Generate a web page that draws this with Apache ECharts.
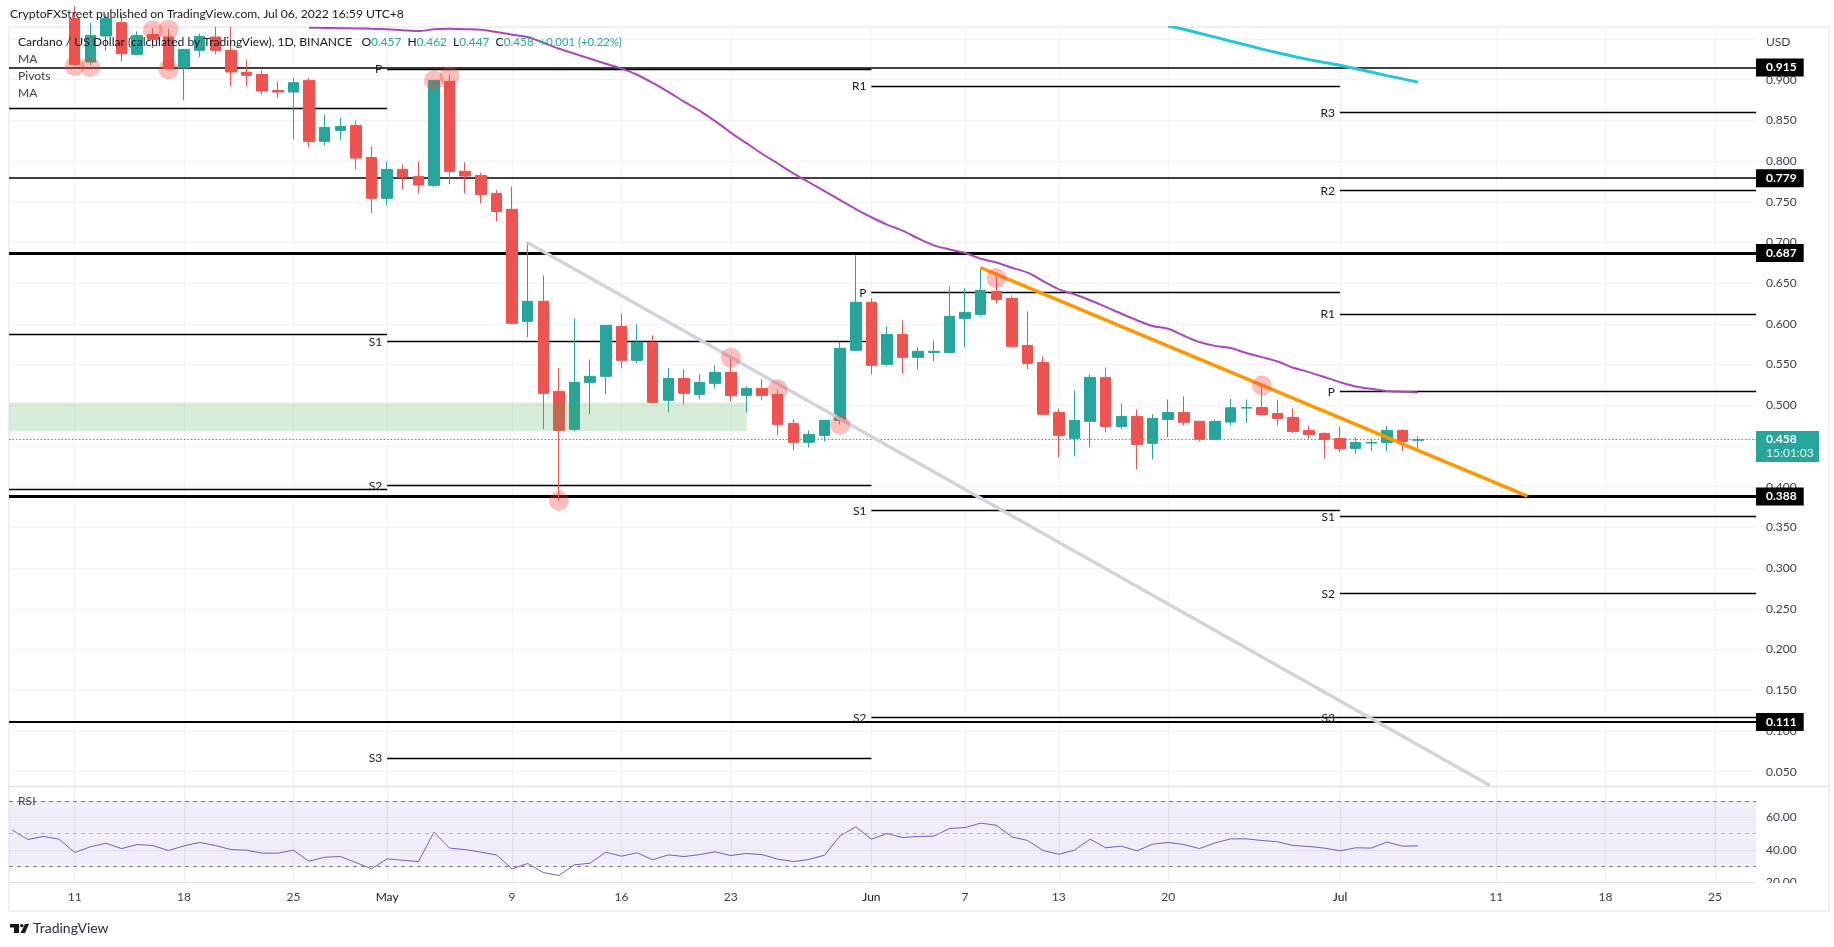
<!DOCTYPE html>
<html>
<head>
<meta charset="utf-8">
<style>
  html, body { margin: 0; background: #fff; }
  #chart { width: 1834px; height: 947px; }
</style>
<script src="https://cdn.jsdelivr.net/npm/echarts@6/dist/echarts.min.js"></script>
</head>
<body>
<div id="chart"></div>
<script>
// x values are days counted from Apr 11 2022, candles start at day 0
// candles: open, close, low, high
var candles = [
  [0.975,0.9188,0.917,0.99],[0.9217,0.9544,0.9176,0.97],[0.9536,0.975,0.9352,0.98],[0.97,0.9319,0.9225,0.98],
  [0.9311,0.9544,0.930,0.9593],[0.9556,0.9495,0.9388,0.9626],[0.9524,0.9135,0.9126,0.9626],[0.9147,0.9372,0.8746,0.9372],
  [0.9360,0.9532,0.9278,0.9565],[0.9524,0.9360,0.9311,0.965],[0.9360,0.9094,0.8918,0.965],[0.9090,0.9053,0.8918,0.9245],
  [0.9065,0.8860,0.8819,0.9114],[0.8868,0.8848,0.8774,0.8979],[0.8848,0.8963,0.8267,0.9024],[0.8991,0.8242,0.8172,0.9024],
  [0.8242,0.8414,0.8193,0.8570],[0.8377,0.8426,0.8254,0.8529],[0.8438,0.8037,0.7898,0.8500],[0.8045,0.7542,0.7362,0.8181],
  [0.7542,0.7898,0.7456,0.7996],[0.7898,0.7804,0.7652,0.7959],[0.7812,0.7706,0.7603,0.7996],[0.7702,0.8991,0.7681,0.90],
  [0.8979,0.7874,0.7714,0.9065],[0.7874,0.7816,0.7603,0.7984],[0.7824,0.7591,0.7480,0.7857],[0.7603,0.7382,0.7259,0.7648],
  [0.7407,0.6007,0.5995,0.7689],[0.6031,0.6277,0.5839,0.7006],[0.6277,0.5147,0.4705,0.6596],[0.5171,0.4692,0.3832,0.5454],
  [0.4705,0.5282,0.4680,0.6068],[0.5282,0.5356,0.4889,0.5564],[0.5356,0.5982,0.5134,0.5982],[0.5970,0.5552,0.5454,0.6129],
  [0.5552,0.5773,0.5515,0.5994],[0.5773,0.5036,0.5024,0.5859],[0.5061,0.5331,0.4913,0.5454],[0.5331,0.5147,0.5012,0.5441],
  [0.5134,0.5282,0.5073,0.5380],[0.5270,0.5405,0.5208,0.5491],[0.5405,0.5122,0.5048,0.5577],[0.5122,0.5208,0.4913,0.5233],
  [0.5208,0.5122,0.5061,0.5319],[0.5134,0.4766,0.4631,0.5196],[0.4778,0.4545,0.4446,0.4827],[0.4545,0.4643,0.4483,0.4692],
  [0.4631,0.4815,0.4557,0.4815],[0.4815,0.5700,0.4766,0.5773],[0.5675,0.6265,0.5675,0.6842],[0.6265,0.5491,0.5380,0.6314],
  [0.5503,0.5871,0.5478,0.5970],[0.5871,0.5589,0.5392,0.6043],[0.5589,0.5663,0.5441,0.5712],[0.5650,0.5663,0.5540,0.5798],
  [0.5650,0.6093,0.5650,0.6461],[0.6068,0.6142,0.5712,0.6437],[0.6117,0.6412,0.6093,0.6690],[0.6400,0.6301,0.6252,0.6576],
  [0.6314,0.5724,0.5712,0.6351],[0.5736,0.5515,0.5441,0.6154],[0.5527,0.4889,0.4889,0.5601],[0.4913,0.4631,0.4361,0.4962],
  [0.4594,0.4815,0.4373,0.5184],[0.4803,0.5343,0.4483,0.5380],[0.5343,0.4741,0.4668,0.5466],[0.4741,0.4864,0.4705,0.5024],
  [0.4864,0.4520,0.4213,0.4950],[0.4533,0.4840,0.4336,0.4889],[0.4827,0.4913,0.4606,0.5073],[0.4913,0.4791,0.4754,0.5110],
  [0.4803,0.4582,0.4557,0.4803],[0.4582,0.4803,0.4582,0.4827],[0.4794,0.4970,0.4753,0.5081],[0.4966,0.4974,0.4782,0.5072],
  [0.4974,0.4888,0.4876,0.5244],[0.4900,0.4839,0.4753,0.5072],[0.4851,0.4679,0.4659,0.4962],[0.4692,0.4642,0.4593,0.4753],
  [0.4655,0.4581,0.4348,0.4667],[0.4593,0.4470,0.4421,0.4741],[0.4470,0.4544,0.4397,0.4606],[0.4536,0.4544,0.4438,0.4593],
  [0.4544,0.4692,0.4438,0.4753],[0.4692,0.4556,0.4438,0.4704],[0.457,0.458,0.447,0.462]
];

// purple MA, starts day 15
var maStart = 15;
var maSlow = [
  0.9638,0.9636,0.9633,0.9630,0.9624,0.9618,0.9608,0.9597,0.9618,0.9626,0.9620,0.9614,0.9585,0.9552,0.9524,0.9454,0.9380,0.9319,0.9257,0.9196,
  0.9135,0.906,0.896,0.885,0.873,0.862,0.849,0.835,0.822,0.809,0.797,0.785,0.774,0.763,0.752,0.741,0.731,0.722,0.7145,0.7050,
  0.6965,0.6915,0.6871,0.680,0.6755,0.669,0.6629,0.6525,0.6425,0.6365,0.629,0.621,0.6125,0.6045,0.5975,0.594,0.5855,0.5777,0.5730,0.5703,
  0.5642,0.5592,0.5539,0.5461,0.5408,0.5347,0.5285,0.5232,0.5203,0.5175,0.5167,0.5158
];
// cyan MA, starts day 70
var maFastStart = 70;
var maLong = [0.9658,0.9620,0.9570,0.9522,0.9472,0.9425,0.9375,0.9330,0.9288,0.9246,0.921,0.9176,0.9135,0.9094,0.905,0.901,0.897];

// RSI, starts day -4
var rsiStart = -4;
var rsiValues = [
  52.2,46.4,48.3,46.6,38.4,41.9,44.1,40.8,43.3,42.7,39.6,42.5,44.6,42.7,40.2,39.8,38.0,38.0,39.8,33.0,35.5,35.9,32.2,28.3,
  34.5,33.6,32.8,50.9,41.1,40.2,38.6,36.9,28.3,31.6,26.0,24.2,30.8,31.8,38.6,36.1,38.2,33.9,36.9,35.9,37.1,38.8,36.5,37.8,37.1,
  34.3,32.8,34.1,36.7,48.7,54.2,46.6,50.1,47.6,48.3,48.5,53.2,53.8,56.5,55.2,48.0,45.8,39.6,37.3,39.8,46.6,41.3,42.3,39.4,43.5,
  44.6,43.3,40.8,44.3,46.8,46.8,45.8,45.0,42.7,42.1,41.1,39.4,41.3,41.1,44.8,42.3,42.5
];

// pivots: label, from day, to day, price
var xMin = -4.206, xMax = 107.63;
var pivots = [
  ['', xMin, 20, 0.8643], ['', xMin, 20, 0.5867], ['', xMin, 20, 0.3968],
  ['P', 20, 51, 0.9126], ['S1', 20, 51, 0.5781], ['S2', 20, 51, 0.4013], ['S3', 20, 51, 0.0668],
  ['R1', 51, 81, 0.8925], ['P', 51, 81, 0.6383], ['S1', 51, 81, 0.3705], ['S2', 51, 81, 0.1163],
  ['R3', 81, xMax, 0.8595], ['R2', 81, xMax, 0.7636], ['R1', 81, xMax, 0.6123], ['P', 81, xMax, 0.5167],
  ['S1', 81, xMax, 0.3632], ['S2', 81, xMax, 0.2686], ['S3', 81, xMax, 0.1163]
];
var thinLevels = [0.915, 0.779];
var thickLevels = [0.687, 0.388];
var midLevels = [0.111];
var taggedLevels = [0.915, 0.779, 0.687, 0.388, 0.111];
var lastClose = 0.458;
var countdown = '15:01:03';

// drawn trend lines: [day, price], [day, price]
var grayTrend = [[29, 0.6998], [90.6, 0.0329]];
var orangeTrend = [[57.98, 0.6690], [93, 0.3885]];
var greenZone = [[xMin, 0.5036], [43.03, 0.4680]];

var touches = [
  [0,0.9167],[1,0.9155],[5,0.9605],[6,0.9614],[6,0.9126],[23,0.8991],[24,0.9040],[31,0.3824],
  [42,0.5585],[45,0.5196],[49,0.4762],[59,0.6563],[76,0.5244]
];

var tickDays = [0,7,14,20,28,35,42,51,57,63,70,81,91,98,105];
var tickLabels = ['11','18','25','May','9','16','23','Jun','7','13','20','Jul','11','18','25'];
var priceLabels = [0.05,0.1,0.15,0.2,0.25,0.3,0.35,0.4,0.45,0.5,0.55,0.6,0.65,0.7,0.75,0.8,0.85,0.9];
var priceGrid = priceLabels.concat([0.95]);
var rsiTicks = [20,40,60];
var priceMin = 0.0319, priceMax = 0.9642, rsiMin = 20, rsiMax = 78.8;

var up = '#26a69a', down = '#ef5350', gridColor = '#f0f3fa';
var font = 'Lato, "Open Sans", sans-serif';
var txt = '#3c3f4a';

function hline(v, width) {
  return [{ coord: [xMin, v], lineStyle: { width: width, color: '#000' } }, { coord: [xMax, v] }];
}

// the axis split lines do not follow custom ticks, so the grid is a markLine
function gridLines(yTicks, yMin, yMax) {
  return yTicks.map(function (v) {
    return [{ coord: [xMin, v] }, { coord: [xMax, v] }];
  }).concat(tickDays.map(function (d) {
    return [{ coord: [d, yMin] }, { coord: [d, yMax] }];
  }));
}

var myChart = echarts.init(document.getElementById('chart'));

myChart.setOption({
  animation: false,
  backgroundColor: '#fff',
  textStyle: { fontFamily: font },
  grid: [
    { left: 9, top: 27.4, width: 1747, height: 759 },
    { left: 9, top: 787, width: 1747, height: 95.3 }
  ],
  xAxis: [
    {
      type: 'value', gridIndex: 0, min: xMin, max: xMax,
      axisLine: { show: false }, axisTick: { show: false }, axisLabel: { show: false }, splitLine: { show: false }
    },
    {
      type: 'value', gridIndex: 1, min: xMin, max: xMax,
      axisLine: { show: false }, axisTick: { show: false }, splitLine: { show: false },
      axisLabel: {
        customValues: tickDays, margin: 9, fontSize: 12, color: txt, fontFamily: font,
        formatter: function (v) {
          var s = tickLabels[tickDays.indexOf(v)];
          return /[a-z]/.test(s) ? '{m|' + s + '}' : s;
        },
        rich: { m: { color: '#131722', fontSize: 12, fontFamily: font } }
      }
    }
  ],
  yAxis: [
    {
      type: 'value', gridIndex: 0, position: 'right', min: priceMin, max: priceMax,
      axisLine: { show: false }, axisTick: { show: false }, splitLine: { show: false },
      axisLabel: {
        customValues: priceLabels, margin: 10, align: 'left', fontSize: 12, color: txt, fontFamily: font,
        formatter: function (v) { return v.toFixed(3); }
      }
    },
    {
      type: 'value', gridIndex: 1, position: 'right', min: rsiMin, max: rsiMax,
      axisLine: { show: false }, axisTick: { show: false }, splitLine: { show: false },
      axisLabel: {
        customValues: rsiTicks, margin: 10, align: 'left', fontSize: 12, color: txt, fontFamily: font,
        formatter: function (v) { return v.toFixed(2); }
      }
    }
  ],
  series: [
    {
      name: 'price grid', type: 'line', xAxisIndex: 0, yAxisIndex: 0, data: [], z: 0,
      markLine: {
        silent: true, symbol: ['none', 'none'], z: 0, label: { show: false },
        lineStyle: { type: 'solid', color: gridColor, width: 1 },
        data: gridLines(priceGrid, priceMin, priceMax)
      }
    },
    {
      name: 'rsi grid', type: 'line', xAxisIndex: 1, yAxisIndex: 1, data: [], z: 2,
      markLine: {
        silent: true, symbol: ['none', 'none'], z: 2, label: { show: false },
        lineStyle: { type: 'solid', color: 'rgba(120,123,134,0.12)', width: 1 },
        data: gridLines(rsiTicks, rsiMin, rsiMax)
      }
    },
    {
      name: 'levels', type: 'line', xAxisIndex: 0, yAxisIndex: 0, data: [], z: 1,
      markLine: {
        silent: true, symbol: ['none', 'none'], z: 1,
        lineStyle: { type: 'solid', color: '#000', width: 1.3 },
        label: { show: false },
        data: thinLevels.map(function (v) { return hline(v, 1.5); })
          .concat(midLevels.map(function (v) { return hline(v, 2.2); }))
          .concat(thickLevels.map(function (v) { return hline(v, 3.2); }))
          .concat(pivots.map(function (p) {
            return [{
              coord: [p[1], p[3]], name: p[0],
              label: { show: !!p[0], position: 'start', distance: 5, formatter: p[0], fontSize: 12, color: '#131722', fontFamily: font }
            }, { coord: [p[2], p[3]] }];
          }))
      }
    },
    {
      name: 'ADA', type: 'candlestick', xAxisIndex: 0, yAxisIndex: 0, z: 2, barWidth: 11,
      encode: { x: 0, y: [1, 2, 3, 4] },
      itemStyle: { color: up, color0: down, borderColor: up, borderColor0: down, borderWidth: 1 },
      data: candles.map(function (c, i) { return [i, c[0], c[1], c[2], c[3]]; })
    },
    {
      name: 'MA', type: 'line', xAxisIndex: 0, yAxisIndex: 0, z: 3, showSymbol: false, symbol: 'none', smooth: 0.3,
      lineStyle: { color: '#ab47bc', width: 2 },
      data: maSlow.map(function (v, i) { return [i + maStart, v]; })
    },
    {
      name: 'MA long', type: 'line', xAxisIndex: 0, yAxisIndex: 0, z: 3, symbol: 'none',
      lineStyle: { color: '#26c6da', width: 3 },
      data: maLong.map(function (v, i) { return [i + maFastStart, v]; })
    },
    {
      name: 'zone', type: 'line', xAxisIndex: 0, yAxisIndex: 0, data: [], z: 3,
      markArea: {
        silent: true, z: 3,
        itemStyle: { color: 'rgba(76,175,80,0.22)' },
        data: [[{ coord: greenZone[0] }, { coord: greenZone[1] }]]
      }
    },
    {
      name: 'gray trend', type: 'line', xAxisIndex: 0, yAxisIndex: 0, z: 3, symbol: 'none',
      lineStyle: { color: '#d1d4dc', width: 3.5 }, data: grayTrend
    },
    {
      name: 'orange trend', type: 'line', xAxisIndex: 0, yAxisIndex: 0, z: 3, symbol: 'none',
      lineStyle: { color: '#ff9800', width: 3.5 }, data: orangeTrend
    },
    {
      name: 'touches', type: 'scatter', xAxisIndex: 0, yAxisIndex: 0, z: 4, symbolSize: 20,
      itemStyle: { color: 'rgba(244,67,54,0.42)' }, data: touches
    },
    {
      name: 'last', type: 'line', xAxisIndex: 0, yAxisIndex: 0, data: [], z: 5,
      markLine: {
        silent: true, symbol: ['none', 'none'], z: 1,
        lineStyle: { type: [1.5, 2], color: up, width: 1 }, label: { show: false },
        data: [[{ coord: [xMin, lastClose] }, { coord: [xMax, lastClose] }]]
      },
      markPoint: {
        silent: true, symbol: 'circle', symbolSize: 0, z: 6,
        data: [{ coord: [xMax, lastClose] }],
        label: {
          show: true, position: 'right', distance: 0, offset: [0, 7],
          backgroundColor: up, padding: [1, 10, 2, 10], width: 43, align: 'left',
          formatter: '{a|' + lastClose.toFixed(3) + '}\n{b|' + countdown + '}',
          rich: {
            a: { color: '#fff', fontWeight: 'bold', fontSize: 12, lineHeight: 14, fontFamily: font },
            b: { color: '#e6f4f2', fontSize: 12, lineHeight: 14, fontFamily: font }
          }
        }
      }
    },
    {
      name: 'tags', type: 'line', xAxisIndex: 0, yAxisIndex: 0, data: [], z: 5,
      markPoint: {
        silent: true, symbol: 'circle', symbolSize: 0, z: 6,
        data: taggedLevels.map(function (v) { return { coord: [xMax, v], value: v }; }),
        label: {
          show: true, position: 'right', distance: 0, backgroundColor: '#000', color: '#fff',
          fontWeight: 'bold', fontSize: 12, padding: [3, 7, 3, 10], fontFamily: font,
          formatter: function (p) { return p.value.toFixed(3); }
        }
      }
    },
    {
      name: 'RSI', type: 'line', xAxisIndex: 1, yAxisIndex: 1, z: 3, symbol: 'none',
      lineStyle: { color: '#7e57c2', width: 1 },
      data: rsiValues.map(function (v, i) { return [i + rsiStart, v]; }),
      markArea: {
        silent: true, itemStyle: { color: 'rgba(126,87,194,0.1)' },
        data: [[{ coord: [xMin, 70] }, { coord: [xMax, 30] }]]
      },
      markLine: {
        silent: true, symbol: ['none', 'none'], label: { show: false },
        lineStyle: { type: [4, 4], color: '#787b86', width: 1 },
        data: [
          [{ coord: [xMin, 70] }, { coord: [xMax, 70] }],
          [{ coord: [xMin, 50], lineStyle: { color: '#b5b3c0' } }, { coord: [xMax, 50] }],
          [{ coord: [xMin, 30] }, { coord: [xMax, 30] }]
        ]
      }
    }
  ],
  graphic: [
    { type: 'rect', silent: true, z: -1, shape: { x: 9, y: 27, width: 1820, height: 884 }, style: { fill: null, stroke: '#eef0f6', lineWidth: 2 } },
    { type: 'line', silent: true, z: 1, shape: { x1: 9, y1: 786.5, x2: 1829, y2: 786.5 }, style: { stroke: '#e0e3eb', lineWidth: 1.5 } },
    { type: 'line', silent: true, z: 1, shape: { x1: 9, y1: 882.5, x2: 1756, y2: 882.5 }, style: { stroke: gridColor, lineWidth: 1 } },
    // 20.00 is cut off by the time scale
    { type: 'rect', silent: true, z: 10, shape: { x: 1757, y: 883, width: 60, height: 8 }, style: { fill: '#fff' } },
    { type: 'text', z: 10, x: 10, y: 8, style: { text: 'CryptoFXStreet published on TradingView.com, Jul 06, 2022 16:59 UTC+8', font: '12.1px ' + font, fill: '#131722' } },
    {
      type: 'text', z: 10, x: 18, y: 36, style: {
        text: '{t|Cardano / US Dollar (calculated by TradingView), 1D, BINANCE   O}{v|0.457}{t|  H}{v|0.462}{t|  L}{v|0.447}{t|  C}{v|0.458}{c|  +0.001 (+0.22%)}',
        rich: {
          t: { fontFamily: font, fontSize: 12.1, fill: '#131722' },
          v: { fontFamily: font, fontSize: 11.8, fill: up },
          c: { fontFamily: font, fontSize: 11.3, fill: up }
        }
      }
    },
    { type: 'text', z: 10, x: 18, y: 53, style: { text: 'MA', font: '12.1px ' + font, fill: '#3c3f4a' } },
    { type: 'text', z: 10, x: 18, y: 70, style: { text: 'Pivots', font: '12.1px ' + font, fill: '#3c3f4a' } },
    { type: 'text', z: 10, x: 18, y: 87, style: { text: 'MA', font: '12.1px ' + font, fill: '#3c3f4a' } },
    { type: 'text', z: 10, x: 18, y: 795, style: { text: 'RSI', font: '12.1px ' + font, fill: '#3c3f4a' } },
    { type: 'text', z: 10, x: 1766, y: 36, style: { text: 'USD', font: '12px ' + font, fill: txt } },
    // logo
    { type: 'rect', silent: true, shape: { x: 10, y: 924, width: 9, height: 3.5 }, style: { fill: '#131722' } },
    { type: 'rect', silent: true, shape: { x: 14, y: 924, width: 5, height: 9 }, style: { fill: '#131722' } },
    { type: 'circle', silent: true, shape: { cx: 21.8, cy: 925.6, r: 1.7 }, style: { fill: '#131722' } },
    { type: 'polygon', silent: true, shape: { points: [[25, 924], [29, 924], [25, 933], [20.5, 933]] }, style: { fill: '#131722' } },
    { type: 'text', z: 10, x: 33, y: 921, style: { text: 'TradingView', font: '14px ' + font, fill: '#2a2e39' } }
  ]
});
</script>
</body>
</html>
